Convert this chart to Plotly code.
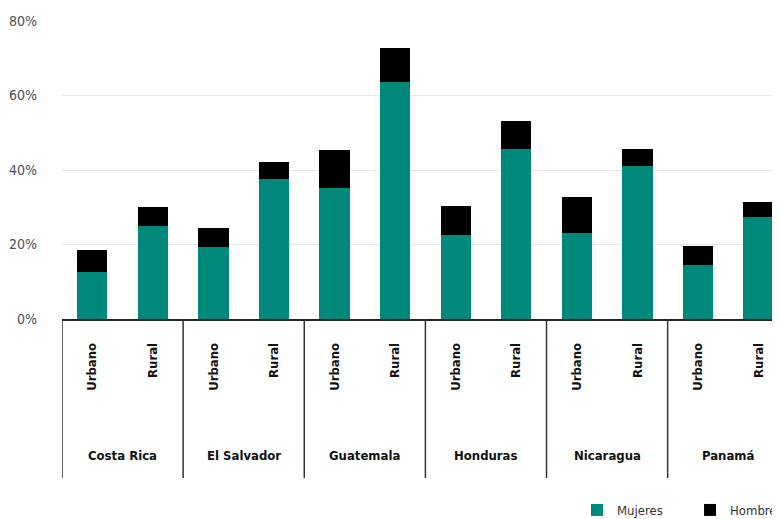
import plotly.graph_objects as go

countries = ["Costa Rica", "El Salvador", "Guatemala", "Honduras", "Nicaragua", "Panamá"]
zones = ["Urbano", "Rural"]
mujeres = [12.6, 25.0, 19.3, 37.6, 35.2, 63.7, 22.5, 45.6, 23.1, 41.1, 14.5, 27.4]
total = [18.5, 30.0, 24.4, 42.1, 45.4, 72.7, 30.3, 53.2, 32.8, 45.6, 19.6, 31.4]
hombres = [round(t - m, 1) for t, m in zip(total, mujeres)]
y_ticks = [0, 20, 40, 60, 80]
y_labels = [f"{v}%" for v in y_ticks]

FONT = "DejaVu Sans Condensed, Liberation Sans Narrow, Arial Narrow, sans-serif"
TEAL = "#00897A"

labels = [z for c in countries for z in zones]
xs = list(range(len(labels)))

NB = "\u00a0"
fig = go.Figure()
fig.add_trace(go.Bar(x=xs, y=mujeres, name="Mujeres" + NB * 6, marker_color=TEAL,
                     width=0.5, marker_line_width=0))
fig.add_trace(go.Bar(x=xs, y=hombres, name="Hombre", marker_color="#000000", width=0.5,
                     marker_line_width=0))

# the page has an 8px body margin: figure is 772x511, drawn at offset (8, 8)
OFF = 8
W, H = 780 - OFF, 519 - OFF
# plot area in page pixels: left 62, right 780, top 21, bottom 319
top, bottom = 21, 319
ph = bottom - top

def ypix(p):
    return (bottom - p) / ph

annotations = []
for k, c in enumerate(countries):
    annotations.append(dict(x=2 * k + 0.5, y=ypix(455), xref="x", yref="paper",
                            text=c, showarrow=False, xanchor="center", yanchor="middle",
                            font=dict(family=FONT, size=13, color="#111", weight="bold")))

shapes = []
for k in range(len(countries) + 1):
    shapes.append(dict(type="line", xref="x", yref="paper", x0=2 * k - 0.5, x1=2 * k - 0.5,
                       y0=0, y1=ypix(478), line=dict(color="#333", width=1.5)))

fig.update_layout(
    barmode="stack",
    width=W, height=H,
    margin=dict(l=62 - OFF, r=0, t=top - OFF, b=519 - bottom, autoexpand=False),
    plot_bgcolor="white", paper_bgcolor="white",
    showlegend=True,
    legend=dict(orientation="h", x=(577 - 62) / 718, xanchor="left", y=ypix(510), yanchor="middle",
                font=dict(family=FONT, size=13, color="#333"), itemwidth=30,
                traceorder="normal"),
    annotations=annotations,
    shapes=shapes,
    font=dict(family=FONT),
)
fig.update_xaxes(range=[-0.5, 11.355], tickmode="array", tickvals=xs, ticktext=labels,
                 tickangle=-90, ticks="", ticklabelstandoff=17, automargin=False,
                 tickfont=dict(family=FONT, size=13, color="#111", weight="bold"),
                 showline=True, linecolor="#222", linewidth=1.5, showgrid=False,
                 zeroline=False, fixedrange=True)
fig.update_yaxes(range=[0, 80], tickmode="array", tickvals=y_ticks, ticktext=y_labels,
                 ticks="", ticklabelstandoff=24, automargin=False,
                 tickfont=dict(family=FONT, size=14, color="#4a4f5a"),
                 showgrid=True, gridcolor="#e6e6e6", gridwidth=1,
                 zeroline=False, showline=False)

fig.write_html("out.html")
